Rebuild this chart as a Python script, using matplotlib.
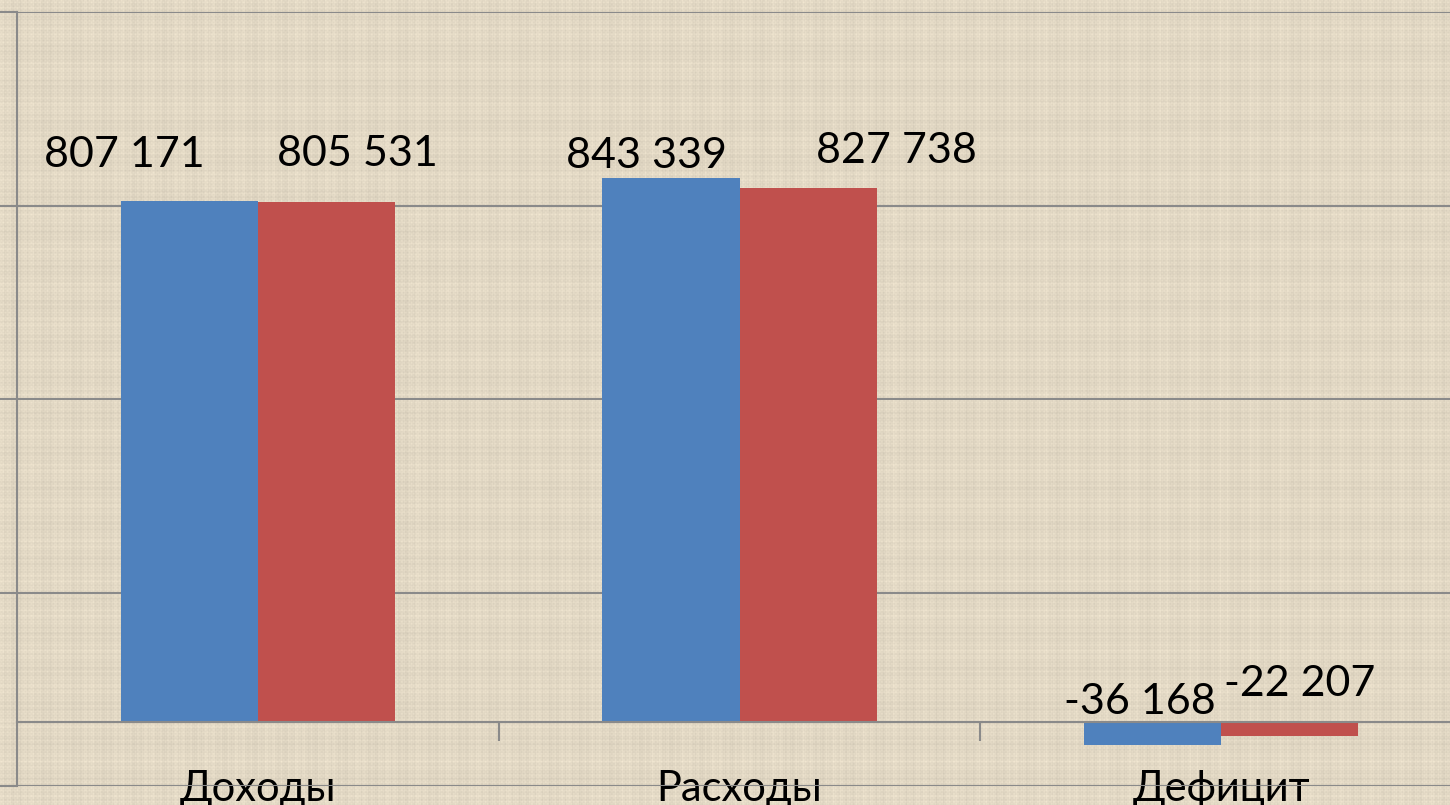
import numpy as np
import matplotlib
matplotlib.use("Agg")
import matplotlib.pyplot as plt
from matplotlib.ticker import FixedLocator, NullFormatter, FixedFormatter

# ---------------- data ----------------
categories = ["Доходы", "Расходы", "Дефицит"]
series_a = [807171, 843339, -36168]   # blue
series_b = [805531, 827738, -22207]   # red
y_ticks = [-100000, 200000, 500000, 800000, 1100000]

# ---------------- style ----------------
BLUE = "#4F81BD"
RED = "#C0504D"
GRID = "#8A8A8A"
FONT = ["Lato", "DejaVu Sans"]
W, H = 1450, 805
# label offsets in pixels (dx, dy) relative to bar centre / bar end above zero
offs_a = [(-65, 34), (-24, 10), (-13, 8)]
offs_b = [(31, 36), (88, 25), (10, 26)]

def fmt(v):
    return f"{v:,}".replace(",", " ")

fig = plt.figure(figsize=(W / 100, H / 100), dpi=100)

# linen-like background texture (deterministic)
yy = np.arange(H, dtype=float)
xx = np.arange(W, dtype=float)
hs = (np.sin(yy * 0.91 + 0.3) * 0.35 + np.sin(yy * 2.37 + 1.1) * 0.3
      + np.sin(yy * 0.173 + 2.0) * 0.25 + np.sin(yy * 5.03) * 0.2)
vs = (np.sin(xx * 0.83 + 0.7) * 0.35 + np.sin(xx * 2.71 + 0.2) * 0.3
      + np.sin(xx * 0.211 + 1.4) * 0.25 + np.sin(xx * 4.61) * 0.2)
tex = hs[:, None] * 0.6 + vs[None, :] * 0.6
tex += 0.3 * np.sin(xx[None, :] * 1.57) * np.sin(yy[:, None] * 1.57)
base = np.array([226, 216, 196], dtype=float) / 255.0
tint = np.array([1.0, 0.95, 0.85])
img = base[None, None, :] + (tex[:, :, None] * 13.0 / 255.0) * tint[None, None, :]
img = np.clip(img, 0, 1)
bg = fig.add_axes([0, 0, 1, 1], zorder=0)
bg.imshow(img, aspect="auto", interpolation="nearest")
bg.set_axis_off()

# main axes (plot area extends slightly past right edge, as in reference)
left_px, right_px, top_px, bot_px = 17, 1462, 12, 786
ax = fig.add_axes([left_px / W, 1 - bot_px / H, (right_px - left_px) / W,
                   (bot_px - top_px) / H], zorder=1)
ax.patch.set_alpha(0)

x = np.arange(len(categories))
bw = 0.2845
ax.bar(x - bw / 2, series_a, width=bw, color=BLUE, zorder=3)
ax.bar(x + bw / 2, series_b, width=bw, color=RED, zorder=3)

ax.set_xlim(-0.5, len(categories) - 0.5)
ax.set_ylim(y_ticks[0], y_ticks[-1])

# y axis: gridlines + outward ticks, no labels
ax.yaxis.set_major_locator(FixedLocator(y_ticks))
ax.yaxis.set_major_formatter(NullFormatter())
ax.tick_params(axis="y", which="major", length=15, width=1.5, color=GRID,
               direction="out")
ax.yaxis.grid(True, color=GRID, linewidth=1.5, zorder=0)
ax.set_axisbelow(True)

# x axis at zero with category separators
for s in ("top", "right"):
    ax.spines[s].set_visible(False)
ax.spines["left"].set_color(GRID)
ax.spines["left"].set_linewidth(1.5)
ax.spines["bottom"].set_position(("data", 0))
ax.spines["bottom"].set_color(GRID)
ax.spines["bottom"].set_linewidth(1.5)
ax.spines["bottom"].set_zorder(4)
ax.xaxis.set_major_locator(FixedLocator(list(x[:-1] + 0.5)))
ax.xaxis.set_major_formatter(NullFormatter())
ax.tick_params(axis="x", which="major", length=14, width=1.5, color=GRID,
               direction="out")
ax.xaxis.set_minor_locator(FixedLocator(list(x)))
ax.xaxis.set_minor_formatter(FixedFormatter(categories))
ax.tick_params(axis="x", which="minor", length=0, pad=35, labelsize=30)
for t in ax.get_xticklabels(minor=True):
    t.set_fontfamily(FONT)

# data labels
for i in range(len(categories)):
    for vals, offs, sgn in ((series_a, offs_a, -1), (series_b, offs_b, 1)):
        v = vals[i]
        ax.annotate(fmt(v), xy=(x[i] + sgn * bw / 2, max(v, 0)),
                    xytext=offs[i], textcoords="offset pixels",
                    ha="center", va="baseline", fontsize=31,
                    family=FONT, color="black", zorder=5)

fig.savefig("out.png", dpi=100)
